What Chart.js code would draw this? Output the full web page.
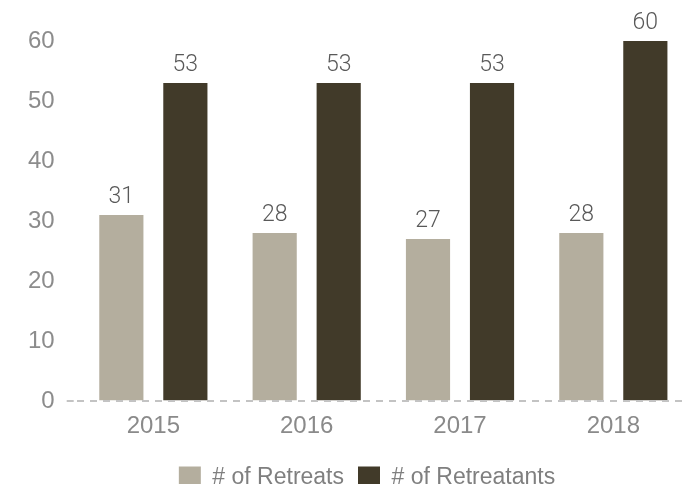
<!DOCTYPE html>
<html lang="en">
<head>
    <meta charset="UTF-8">
    <title>Retreats</title>
    <script src="https://cdn.jsdelivr.net/npm/chart.js"></script>
    <style>
        html, body {
            margin: 0;
            padding: 0;
            background: #ffffff;
            overflow: hidden;
        }
        #wrap {
            width: 690px;
            height: 484px;
        }
    </style>
</head>
<body>
    <div id="wrap"><canvas id="grafico"></canvas></div>

    <script>
        const years = ["2015", "2016", "2017", "2018"];
        const retreats = [31, 28, 27, 28];
        const retreatants = [53, 53, 53, 60];
        const yTicks = [0, 10, 20, 30, 40, 50, 60];

        // draws the number above each bar
        const valueLabels = {
            id: "valueLabels",
            afterLayout(chart) {
                // legend sits a bit right of centre in the original
                chart.legend.left += 14;
                chart.legend.right += 14;
            },
            afterDatasetsDraw(chart) {
                const ctx = chart.ctx;
                ctx.save();
                ctx.font = "300 23px Roboto, 'Liberation Sans', sans-serif";
                ctx.fillStyle = "#595959";
                ctx.textAlign = "center";
                ctx.textBaseline = "alphabetic";
                chart.data.datasets.forEach((ds, i) => {
                    chart.getDatasetMeta(i).data.forEach((bar, j) => {
                        ctx.fillText(ds.data[j], bar.x, bar.y - 12);
                    });
                });
                ctx.restore();
            }
        };

        new Chart(document.getElementById("grafico"), {
            type: "bar",
            data: {
                labels: years,
                datasets: [
                    {
                        label: "# of Retreats",
                        data: retreats,
                        backgroundColor: "#b4ae9e"
                    },
                    {
                        label: "# of Retreatants",
                        data: retreatants,
                        backgroundColor: "#413a29"
                    }
                ]
            },
            options: {
                responsive: true,
                maintainAspectRatio: false,
                animation: false,
                categoryPercentage: 0.835,
                barPercentage: 0.69,
                layout: { padding: { top: 41, left: 16, right: 0, bottom: -15 } },
                plugins: {
                    tooltip: { enabled: false },
                    legend: {
                        position: "bottom",
                        labels: {
                            boxWidth: 22,
                            boxHeight: 22,
                            padding: 14,
                            color: "#7f7f7f",
                            font: { family: "'Liberation Sans', Arial, sans-serif", size: 23 }
                        }
                    }
                },
                scales: {
                    x: {
                        grid: { display: false, drawTicks: false },
                        border: { display: false },
                        ticks: {
                            color: "#8a8a8a",
                            padding: 11,
                            font: { family: "'Liberation Sans', Arial, sans-serif", size: 24 }
                        }
                    },
                    y: {
                        min: 0,
                        max: 60,
                        afterBuildTicks(axis) {
                            axis.ticks = yTicks.map(v => ({ value: v }));
                        },
                        border: { display: false, dash: [7, 6] },
                        grid: {
                            z: 1,
                            lineWidth: 2,
                            tickLength: 10,
                            tickBorderDash: [7, 6],
                            color: c => c.tick && c.tick.value === 0 ? "#c3c3c3" : "rgba(0,0,0,0)"
                        },
                        ticks: {
                            color: "#8c8c8c",
                            padding: 12,
                            font: { family: "'Liberation Sans', Arial, sans-serif", size: 24 }
                        }
                    }
                }
            },
            plugins: [valueLabels]
        });
    </script>
</body>
</html>
